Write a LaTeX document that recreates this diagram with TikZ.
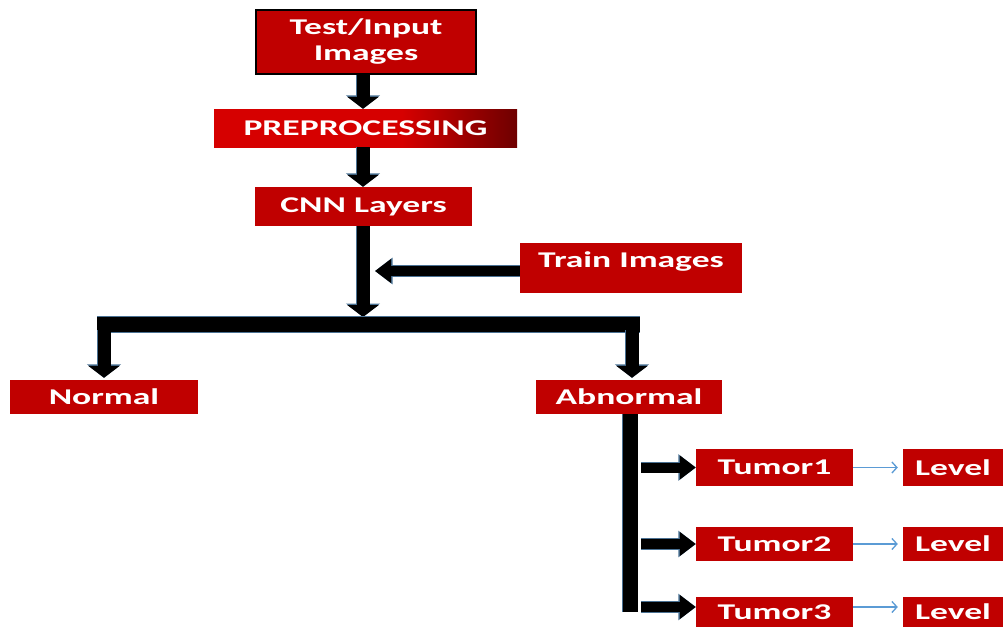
\documentclass[tikz,border=0pt]{standalone}
\usepackage{fontspec}
\setmainfont{Carlito}
\newfontfamily\boxfont{Carlito}[FakeStretch=1.58]
\usetikzlibrary{arrows.meta}
\definecolor{boxred}{HTML}{C00000}
\definecolor{preplight}{HTML}{D60000}
\definecolor{prepdark}{HTML}{6E0000}
\definecolor{linkblue}{HTML}{5B9BD5}
\definecolor{edgeblue}{HTML}{4A7193}
\pgfdeclarehorizontalshading{prepfade}{100bp}{color(0bp)=(preplight); color(25bp)=(preplight); color(56bp)=(preplight); color(75bp)=(prepdark); color(100bp)=(prepdark)}

\begin{document}
\begin{tikzpicture}[x=1pt,y=-1pt,
  box/.style={rectangle, fill=boxred, text=white, inner sep=0pt, align=center,
    font=\boxfont\bfseries\fontsize{22.5}{26}\selectfont},
  bigarrow/.style={draw=black, line width=13pt, -{Triangle[width=31pt,length=12pt]},
    preaction={draw=edgeblue, line width=14.6pt, -{Triangle[width=33.5pt,length=13.5pt]}}},
  sidearrow/.style={draw=black, line width=10pt, -{Triangle[width=23pt,length=16pt]},
    preaction={draw=edgeblue, line width=11.6pt, -{Triangle[width=25.5pt,length=17.5pt]}}},
  thinarrow/.style={draw=linkblue, line width=1.3pt, shorten >=5pt, -{Straight Barb[length=5pt,width=11pt]}},
  trunk/.style={draw=black, line width=15pt, preaction={draw=edgeblue, line width=16.6pt}},
]
\useasboundingbox (0,0) rectangle (1003,627);

% boxes
\node[box, draw=black, line width=1.5pt, minimum width=220pt, minimum height=64pt] (test) at (366,42) {Test/Input\\Images};
\node[box, shade, shading=prepfade, minimum width=303pt, minimum height=38pt] (prep) at (365.5,128) {PREPROCESSING};
\node[box, minimum width=217pt, minimum height=39pt] (cnn) at (363.5,206.5) {CNN Layers};
\node[box, minimum width=222pt, minimum height=50pt] (train) at (631,268) {\raisebox{6pt}[\height][\depth]{Train Images}};
\node[box, minimum width=188pt, minimum height=34pt] (normal) at (104,397) {Normal};
\node[box, minimum width=186pt, minimum height=34pt] (abnormal) at (629,397) {Abnormal};
\node[box, minimum width=157pt, minimum height=37pt] (tumor1) at (774.5,467.5) {Tumor1};
\node[box, minimum width=157pt, minimum height=34pt] (tumor2) at (774.5,544) {Tumor2};
\node[box, minimum width=157pt, minimum height=30pt] (tumor3) at (774.5,612) {Tumor3};
\node[box, minimum width=100pt, minimum height=37pt] (level1) at (953,467.5) {Level};
\node[box, minimum width=100pt, minimum height=34pt] (level2) at (953,544) {Level};
\node[box, minimum width=100pt, minimum height=30pt] (level3) at (953,612) {Level};

% helper points
\coordinate (spine) at (363,0);
\coordinate (bartop) at (363,317);
\coordinate (trainhit) at (375,271);
\coordinate (barL) at (97,324.5);
\coordinate (barR) at (640,324.5);
\coordinate (dropL) at (104,330);
\coordinate (dropR) at (632,330);
\coordinate (trunkend) at (630,612);
\coordinate (branchx) at (641,0);
\coordinate (b3) at (641,607);

% main flow
\draw[bigarrow] (test.south -| spine) -- (prep.north -| spine);
\draw[bigarrow] (prep.south -| spine) -- (cnn.north -| spine);
\draw[bigarrow] (cnn.south -| spine) -- (bartop);
\draw[sidearrow] ([yshift=-3pt]train.west) -- (trainhit);

% split into two classes
\draw[trunk] (barL) -- (barR);
\draw[bigarrow, shorten >=2pt] (dropL) -- (dropL |- normal.north);
\draw[bigarrow, shorten >=2pt] (dropR) -- (dropR |- abnormal.north);

% tumour branches
\draw[trunk] (abnormal.south -| trunkend) -- (trunkend);
\draw[sidearrow] (tumor1.west -| branchx) -- (tumor1.west);
\draw[sidearrow] (tumor2.west -| branchx) -- (tumor2.west);
\draw[sidearrow] (b3) -- (b3 -| tumor3.west);

\draw[thinarrow] (tumor1.east) -- (level1.west);
\draw[thinarrow] (tumor2.east) -- (level2.west);
\draw[thinarrow] (tumor3.east |- b3) -- (level3.west |- b3);
\end{tikzpicture}
\end{document}
